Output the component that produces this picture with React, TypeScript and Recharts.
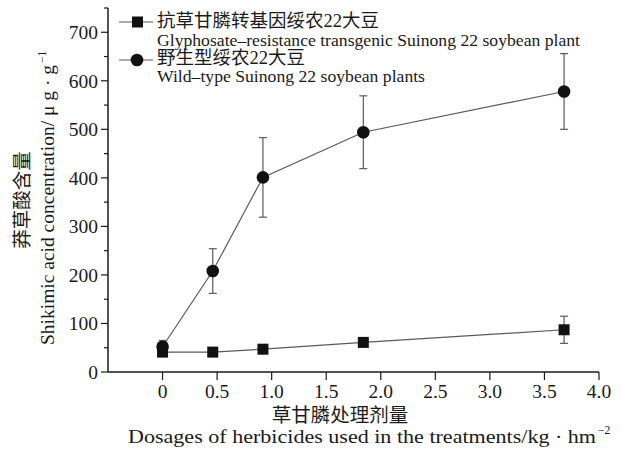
import React from 'react';
import { ComposedChart, Line, XAxis, YAxis, ErrorBar } from 'recharts';

const doses = [0, 0.46, 0.92, 1.84, 3.68];
const transgenicMean = [41, 41, 47, 61, 87];
const transgenicErr = [6, 5, 9, 8, 28];
const wildMean = [52, 208, 401, 494, 578];
const wildErr = [13, 46, 82, 75, 78];

const xTicks = [0, 0.5, 1, 1.5, 2, 2.5, 3, 3.5, 4];
const yTicks = [0, 50, 100, 150, 200, 250, 300, 350, 400, 450, 500, 550, 600, 650, 700, 750];

const transgenicCn = '抗草甘膦转基因绥农22大豆';
const transgenicEn = 'Glyphosate–resistance transgenic Suinong 22 soybean plant';
const wildCn = '野生型绥农22大豆';
const wildEn = 'Wild–type Suinong 22 soybean plants';
const xLabelCn = '草甘膦处理剂量';
const xLabelEn = 'Dosages of herbicides used in the treatments/kg · hm';
const xLabelSup = '−2';
const yLabelCn = '莽草酸含量';
const yLabelEn = 'Shikimic acid concentration/ μ g · g';
const yLabelSup = '−1';

const data = doses.map((x, i) => ({
  x,
  t: transgenicMean[i],
  tErr: transgenicErr[i],
  w: wildMean[i],
  wErr: wildErr[i],
}));

const FONT = '"Liberation Serif", "Times New Roman", "Noto Sans CJK SC", serif';
const INK = '#1a1a1a';
const LINE = '#5a5a5a';

const YTick = (props: any) => {
  const { x, y, payload } = props;
  const major = payload.value % 100 === 0 && payload.value <= 700;
  return (
    <g>
      <line x1={x - (major ? 7 : 4)} x2={x} y1={y} y2={y} stroke={INK} strokeWidth={1.2} />
      {major && (
        <text x={x - 10} y={y} dy="0.35em" textAnchor="end" fontSize={19.5} fontFamily={FONT} fill={INK}>
          {payload.value}
        </text>
      )}
    </g>
  );
};

const XTick = (props: any) => {
  const { x, y, payload } = props;
  const v = payload.value;
  const label = v === 0 ? '0' : v.toFixed(1);
  return (
    <g>
      <line x1={x} x2={x} y1={y} y2={y + 8} stroke={INK} strokeWidth={1.2} />
      <text x={x} y={y + 19} dy="0.35em" textAnchor="middle" fontSize={19.5} fontFamily={FONT} fill={INK}>
        {label}
      </text>
    </g>
  );
};

const SquareDot = (props: any) => {
  const { cx, cy } = props;
  if (cx == null || cy == null) return null;
  return <rect x={cx - 5.5} y={cy - 5.5} width={11} height={11} fill="#111" />;
};

const CircleDot = (props: any) => {
  const { cx, cy } = props;
  if (cx == null || cy == null) return null;
  return <circle cx={cx} cy={cy} r={6.3} fill="#111" />;
};

const LegendOverlay = () => (
  <svg width={621} height={90} style={{ position: 'absolute', left: 0, top: 0, pointerEvents: 'none' }}>
    <line x1={119} x2={153} y1={22} y2={22} stroke={LINE} strokeWidth={1.2} />
    <rect x={132} y={16.5} width={11} height={11} fill="#111" />
    <text x={157} y={21} dy="0.35em" fontSize={18.5} fontFamily={FONT} fill={INK}>{transgenicCn}</text>
    <text x={157} y={40} dy="0.35em" fontSize={17} fontFamily={FONT} fill={INK} textLength={423} lengthAdjust="spacingAndGlyphs">{transgenicEn}</text>
    <line x1={119} x2={153} y1={60} y2={60} stroke={LINE} strokeWidth={1.2} />
    <circle cx={137} cy={60} r={6.3} fill="#111" />
    <text x={157} y={58} dy="0.35em" fontSize={18.5} fontFamily={FONT} fill={INK}>{wildCn}</text>
    <text x={157} y={76} dy="0.35em" fontSize={17} fontFamily={FONT} fill={INK} textLength={268} lengthAdjust="spacingAndGlyphs">{wildEn}</text>
  </svg>
);

const YLabel = () => (
  <g>
    <text transform="translate(22,200) rotate(-90)" textAnchor="middle" dy="0.35em" fontSize={19.5} fontFamily={FONT} fill={INK}>
      {yLabelCn}
    </text>
    <text transform="translate(48,345) rotate(-90)" textAnchor="start" dy="0.35em" fontSize={18.5} fontFamily={FONT} fill={INK} textLength={280} lengthAdjust="spacingAndGlyphs">
      {yLabelEn}
    </text>
    <text transform="translate(42,63) rotate(-90)" textAnchor="start" dy="0.35em" fontSize={11.5} fontFamily={FONT} fill={INK}>
      {yLabelSup}
    </text>
  </g>
);

const XLabel = () => (
  <g>
    <text x={340} y={415} dy="0.35em" textAnchor="middle" fontSize={19.5} fontFamily={FONT} fill={INK}>
      {xLabelCn}
    </text>
    <text x={128} y={436} dy="0.35em" textAnchor="start" fontSize={19} fontFamily={FONT} fill={INK} textLength={468} lengthAdjust="spacingAndGlyphs">
      {xLabelEn}
    </text>
    <text x={598} y={430} dy="0.35em" textAnchor="start" fontSize={11.5} fontFamily={FONT} fill={INK}>
      {xLabelSup}
    </text>
  </g>
);

export default function App() {
  return (
    <div style={{ position: 'absolute', left: 0, top: 0, width: 621, height: 449, background: '#fff' }}>
      <ComposedChart width={621} height={449} data={data} margin={{ top: 8, right: 22, bottom: 0, left: 0 }}>
        <XAxis
          type="number"
          dataKey="x"
          domain={[-0.5, 4]}
          ticks={xTicks}
          allowDataOverflow
          tickLine={false}
          tickSize={0}
          tickMargin={0}
          tick={<XTick />}
          axisLine={{ stroke: INK, strokeWidth: 1.5 }}
          height={77}
          label={{ content: () => <XLabel /> }}
        />
        <YAxis
          type="number"
          domain={[0, 750]}
          ticks={yTicks}
          interval={0}
          allowDataOverflow
          tickLine={false}
          tickSize={0}
          tickMargin={0}
          tick={<YTick />}
          axisLine={{ stroke: INK, strokeWidth: 1.5 }}
          width={108}
          label={{ content: () => <YLabel /> }}
        />
        <Line
          type="linear"
          dataKey="w"
          name={wildCn}
          stroke={LINE}
          strokeWidth={1.2}
          dot={<CircleDot />}
          activeDot={false}
          isAnimationActive={false}
        >
          <ErrorBar dataKey="wErr" direction="y" width={4} stroke={LINE} strokeWidth={1.2} isAnimationActive={false} />
        </Line>
        <Line
          type="linear"
          dataKey="t"
          name={transgenicCn}
          stroke={LINE}
          strokeWidth={1.2}
          dot={<SquareDot />}
          activeDot={false}
          isAnimationActive={false}
        >
          <ErrorBar dataKey="tErr" direction="y" width={4} stroke={LINE} strokeWidth={1.2} isAnimationActive={false} />
        </Line>
      </ComposedChart>
      <LegendOverlay />
    </div>
  );
}
